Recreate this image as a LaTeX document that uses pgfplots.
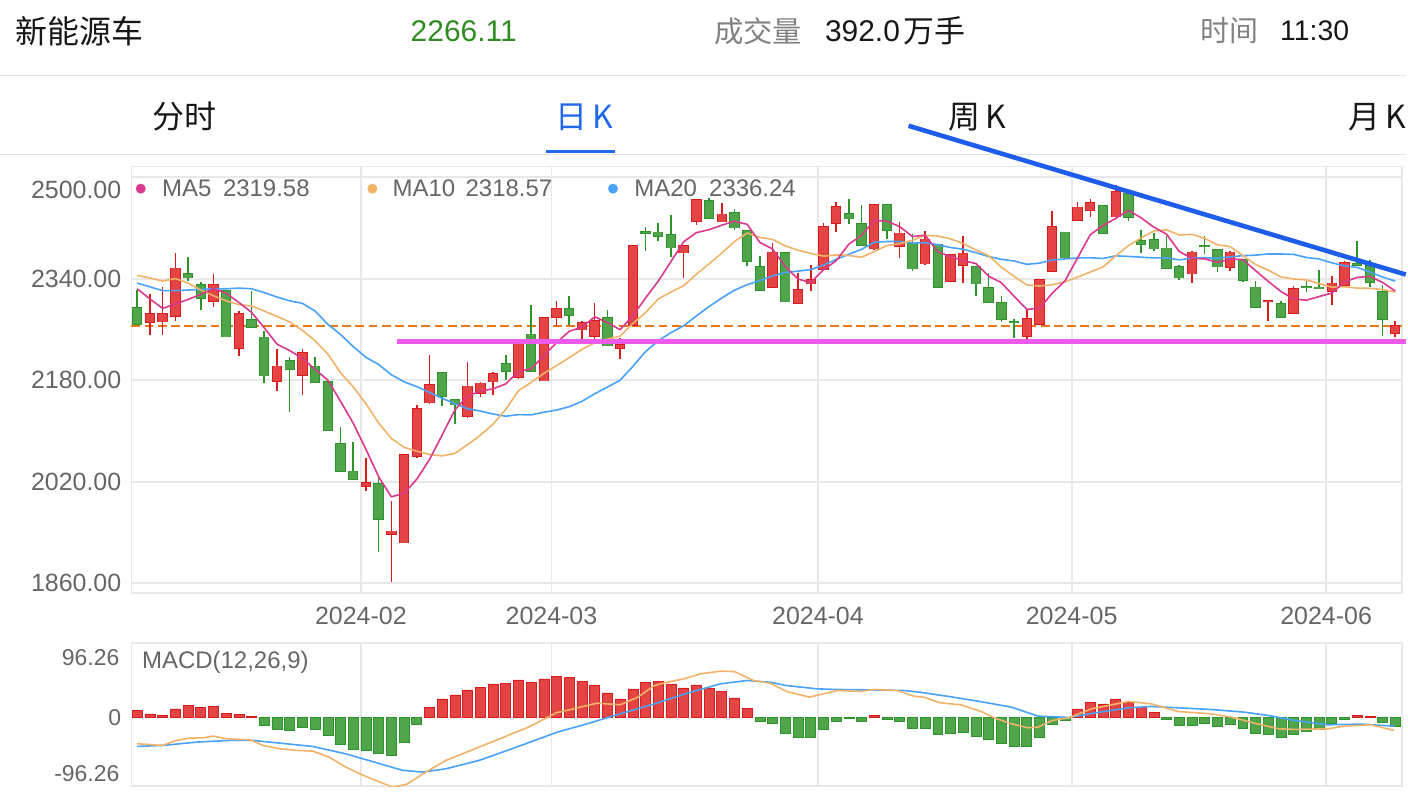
\documentclass[border=0pt]{standalone}
\usepackage{fontspec}
\usepackage{pgfplots}
\usepackage{pgfplotstable}
\pgfplotsset{compat=1.18}
\setmainfont{Liberation Sans}
\newfontfamily\cjk{Noto Sans CJK SC}

\definecolor{upred}{RGB}{228,68,68}
\definecolor{upedge}{RGB}{214,28,28}
\definecolor{dngreen}{RGB}{80,164,74}
\definecolor{dnedge}{RGB}{42,148,42}
\definecolor{ma5c}{RGB}{218,56,140}
\definecolor{ma10c}{RGB}{242,178,104}
\definecolor{ma20c}{RGB}{72,162,250}
\definecolor{gridc}{RGB}{232,232,232}
\definecolor{labc}{RGB}{102,102,102}
\definecolor{lastc}{RGB}{238,118,20}
\definecolor{magc}{RGB}{236,90,236}
\definecolor{trendc}{RGB}{30,92,236}
\definecolor{pricegreen}{RGB}{48,140,34}
\definecolor{tabblue}{RGB}{32,104,236}
\definecolor{txtc}{RGB}{24,24,24}
\definecolor{graytxt}{RGB}{130,130,130}
\definecolor{sepc}{RGB}{228,228,228}

% up (red) candles: index open high low close
\pgfplotstableread{
i o h l c
1 2270.3 2316.4 2250.9 2285.0
2 2271.4 2326.4 2251.9 2285.0
3 2280.8 2380.4 2272.9 2356.8
6 2304.4 2347.4 2294.9 2330.6
8 2229.4 2288.6 2217.9 2285.0
11 2178.0 2228.4 2162.8 2202.2
13 2187.5 2228.4 2156.5 2224.2
18 2012.4 2058.0 2005.6 2018.7
20 1937.4 1989.9 1861.4 1942.7
21 1923.3 2063.3 1923.3 2063.3
22 2059.6 2140.8 2058.0 2135.1
23 2144.0 2218.9 2142.9 2173.3
26 2122.5 2208.5 2119.9 2170.7
27 2158.7 2177.5 2154.0 2175.4
28 2177.0 2193.2 2156.0 2190.6
30 2183.8 2237.8 2182.2 2237.8
32 2178.6 2279.2 2178.6 2279.2
33 2279.2 2304.4 2265.1 2292.8
35 2258.8 2272.9 2245.1 2271.4
36 2249.3 2301.8 2245.1 2274.0
38 2229.4 2246.7 2212.6 2236.2
39 2266.6 2392.4 2265.1 2392.4
43 2380.4 2391.9 2341.1 2391.9
44 2430.2 2464.3 2424.9 2464.3
46 2429.1 2459.0 2429.1 2441.7
50 2326.4 2396.1 2326.4 2382.0
52 2300.2 2348.9 2300.2 2322.7
53 2331.6 2362.0 2320.1 2338.5
54 2354.2 2427.6 2352.6 2422.3
55 2426.5 2460.1 2413.4 2453.8
58 2386.7 2456.4 2385.6 2456.4
60 2390.9 2428.6 2372.5 2411.8
62 2363.1 2414.5 2361.0 2402.4
64 2335.8 2377.8 2335.8 2377.8
65 2361.0 2407.6 2333.2 2380.4
70 2248.3 2292.3 2244.1 2277.1
71 2267.7 2339.5 2267.7 2338.5
72 2351.6 2445.9 2351.6 2422.3
74 2431.8 2460.6 2431.8 2452.7
75 2447.5 2465.3 2436.5 2460.1
77 2437.0 2487.9 2437.0 2477.4
83 2347.4 2383.0 2333.2 2382.0
86 2357.9 2384.1 2352.6 2382.0
89 2304.4 2305.9 2272.9 2305.9
91 2284.5 2328.0 2284.5 2324.3
94 2319.1 2344.7 2299.1 2333.2
95 2329.5 2368.3 2329.5 2365.7
99 2253.0 2272.9 2248.3 2266.1
}\redK

% down (green) candles
\pgfplotstableread{
i o h l c
0 2294.9 2322.7 2266.6 2267.7
4 2347.9 2373.6 2335.8 2341.1
5 2330.6 2334.3 2291.3 2308.1
7 2321.2 2322.7 2247.8 2247.8
9 2275.6 2320.1 2262.4 2262.4
10 2248.3 2257.2 2175.9 2186.4
12 2211.6 2216.8 2130.3 2196.9
14 2202.2 2216.3 2175.9 2175.9
15 2177.5 2177.5 2101.0 2101.0
16 2080.5 2106.2 2036.0 2036.0
17 2037.0 2082.6 2023.9 2023.9
19 2017.6 2026.6 1908.6 1960.0
24 2192.7 2192.7 2139.3 2154.0
25 2149.7 2149.7 2110.4 2140.8
29 2206.4 2218.9 2179.6 2193.2
31 2253.0 2298.1 2193.2 2193.2
34 2292.8 2313.3 2267.7 2281.8
37 2279.2 2290.2 2233.6 2233.6
40 2414.5 2421.3 2384.1 2410.8
41 2413.4 2427.6 2399.8 2406.6
42 2409.2 2440.7 2374.1 2388.2
45 2463.2 2466.9 2434.4 2434.4
47 2444.3 2449.6 2416.0 2419.7
48 2416.0 2416.0 2360.5 2367.3
49 2359.4 2375.2 2321.7 2321.7
51 2381.4 2381.4 2303.3 2303.3
56 2442.2 2465.3 2426.5 2433.9
57 2426.5 2455.4 2391.9 2391.9
59 2456.4 2456.4 2402.9 2416.0
61 2395.1 2410.8 2352.6 2355.2
63 2393.5 2393.5 2326.4 2326.4
66 2359.4 2359.4 2313.3 2331.6
67 2326.4 2348.9 2302.8 2302.8
68 2302.8 2312.2 2271.4 2275.6
69 2272.9 2276.6 2246.7 2270.8
73 2413.4 2413.4 2372.5 2372.5
76 2454.8 2454.8 2410.8 2410.8
78 2474.7 2477.4 2430.2 2436.5
79 2399.8 2417.1 2380.4 2393.5
80 2401.4 2411.8 2384.1 2386.7
81 2388.2 2406.6 2355.7 2355.7
82 2359.4 2362.0 2338.5 2341.1
84 2392.4 2406.6 2378.8 2390.3
85 2385.6 2385.6 2350.5 2358.4
87 2369.9 2369.9 2334.3 2337.4
88 2326.9 2335.8 2294.9 2294.9
90 2301.2 2305.4 2278.2 2278.2
92 2328.0 2336.9 2318.5 2326.4
93 2326.9 2354.2 2323.8 2323.8
96 2364.1 2399.8 2359.4 2360.5
97 2360.5 2369.9 2326.4 2334.3
98 2320.1 2330.6 2249.3 2275.6
}\greenK

% moving averages
\pgfplotstableread{
i m5 m10 m20
0 2324 2345 2333
1 2308 2341 2327
2 2293 2336 2321
3 2300 2340 2321
4 2307.1 2333 2322
5 2315.2 2322 2323
6 2324.3 2313 2324
7 2316.9 2305 2324
8 2302.5 2299 2325
9 2286.8 2297.0 2324
10 2262.4 2288.8 2318
11 2236.8 2280.5 2311
12 2226.6 2271.7 2305
13 2214.4 2258.5 2301
14 2197.1 2242.0 2289
15 2180.0 2221.2 2268
16 2146.8 2191.8 2252
17 2112.2 2169.4 2233
18 2071.1 2142.8 2216
19 2027.9 2112.5 2204.7
20 1996.3 2088.2 2188.5
21 2001.7 2074.3 2177.4
22 2024.0 2068.1 2169.9
23 2054.9 2063.0 2160.7
24 2093.7 2060.8 2151.4
25 2133.3 2064.8 2143.0
26 2154.8 2078.3 2135.0
27 2162.8 2093.4 2131.4
28 2166.3 2110.6 2126.7
29 2174.1 2133.9 2123.2
30 2193.5 2163.4 2125.8
31 2198.0 2176.4 2125.3
32 2218.8 2190.8 2129.5
33 2239.2 2202.8 2132.9
34 2257.0 2215.6 2138.2
35 2263.7 2228.6 2146.7
36 2279.8 2238.9 2158.6
37 2270.7 2244.8 2169.1
38 2259.4 2249.3 2180.0
39 2281.5 2269.2 2201.6
40 2309.4 2286.5 2225.0
41 2335.9 2307.9 2242.1
42 2366.8 2318.8 2254.8
43 2398.0 2328.7 2265.7
44 2412.4 2346.9 2281.2
45 2417.1 2363.2 2295.9
46 2424.1 2380.0 2309.5
47 2430.4 2398.6 2321.7
48 2425.5 2411.7 2330.5
49 2397.0 2404.7 2337.0
50 2386.5 2401.8 2344.2
51 2358.8 2391.5 2349.7
52 2339.4 2384.9 2351.8
53 2333.6 2379.6 2354.1
54 2353.8 2375.4 2361.2
55 2368.1 2377.3 2370.3
56 2394.2 2376.5 2378.3
57 2408.1 2373.7 2386.2
58 2431.7 2382.7 2397.2
59 2430.4 2392.1 2398.4
60 2422.0 2395.1 2398.4
61 2406.3 2400.3 2395.9
62 2408.4 2408.2 2396.6
63 2382.4 2407.0 2393.3
64 2374.7 2402.6 2389.0
65 2368.4 2395.2 2386.3
66 2363.7 2385.0 2380.8
67 2343.8 2376.1 2374.9
68 2333.6 2358.0 2370.3
69 2312.2 2343.5 2367.8
70 2291.6 2330.0 2362.5
71 2293.0 2328.3 2364.3
72 2316.9 2330.3 2369.3
73 2336.2 2334.9 2371.0
74 2372.6 2342.4 2372.5
75 2409.2 2350.4 2372.8
76 2423.7 2358.3 2371.7
77 2434.7 2375.8 2375.9
78 2447.5 2391.9 2374.9
79 2435.7 2404.1 2373.8
80 2421.0 2415.1 2372.6
81 2410.0 2416.8 2372.6
82 2382.7 2408.7 2369.5
83 2371.8 2409.7 2372.3
84 2371.2 2403.4 2372.9
85 2365.5 2393.2 2371.8
86 2370.8 2390.4 2374.3
87 2370.0 2376.4 2376.1
88 2352.6 2362.2 2377.0
89 2335.7 2353.4 2378.8
90 2319.7 2342.6 2378.8
91 2308.1 2339.5 2378.1
92 2305.9 2338.0 2373.3
93 2311.7 2332.2 2370.9
94 2317.2 2326.5 2364.9
95 2334.7 2327.2 2360.2
96 2341.9 2325.0 2357.7
97 2343.5 2324.7 2350.5
98 2333.9 2322.8 2342.5
99 2320.4 2318.8 2336.1
}\maT

% MACD histogram
\pgfplotstableread{
i v
0 8.8
1 4.5
2 2.8
3 11.0
4 15.3
5 13.1
6 14.0
7 5.0
8 3.7
9 1.1
23 12.3
24 23.9
25 29.1
26 35.5
27 39.0
28 43.3
29 44.1
30 48.5
31 45.0
32 49.7
33 53.2
34 51.5
35 46.7
36 42.0
37 31.7
38 23.9
39 36.8
40 45.0
41 46.7
42 43.3
43 38.1
44 42.0
45 37.7
46 33.4
47 25.2
48 11.8
58 2.4
74 11.0
75 19.6
76 17.4
77 23.9
78 19.6
79 13.1
80 6.7
96 2.4
97 1.5
}\macdPos

\pgfplotstableread{
i v
10 -10.6
11 -14.9
12 -16.2
13 -12.7
14 -14.9
15 -23.5
16 -34.7
17 -41.6
18 -42.4
19 -47.2
20 -49.3
21 -32.1
22 -9.3
49 -5.4
50 -8.4
51 -20.5
52 -25.6
53 -26.5
54 -15.7
55 -5.4
56 -1.9
57 -5.4
59 -2.8
60 -5.0
61 -13.6
62 -13.6
63 -22.6
64 -21.3
65 -20.0
66 -24.3
67 -29.1
68 -34.2
69 -37.3
70 -37.3
71 -26.5
72 -9.3
73 -3.7
81 -3.2
82 -10.6
83 -10.6
84 -8.4
85 -11.4
86 -9.3
87 -13.6
88 -21.3
89 -22.6
90 -26.5
91 -22.2
92 -17.9
93 -15.7
94 -8.4
95 -3.2
98 -6.2
99 -11.4
}\macdNeg

% DIF (fast line)
\pgfplotstableread{
i v
0 -34.2
2 -36.4
3.1 -29.9
4.1 -26.9
5.2 -26.5
6 -24.3
7 -27.8
8.9 -29.1
9.9 -36.4
11.2 -40.7
12.5 -42.8
13.8 -43.7
15.1 -51.5
16.4 -64.4
17.8 -75.2
19.1 -83.8
20.1 -90.5
21.2 -86.8
22.5 -73.0
24.3 -55.8
26.9 -38.6
29.5 -21.3
30.8 -12.7
33.0 6.0
34.1 10.1
35.4 15.3
36.2 18.3
38.0 16.2
39.4 26.1
40.7 41.1
41.7 45.4
43.0 49.7
44.3 56.2
45.9 59.7
47.0 59.2
48.5 47.6
49.8 44.1
51.1 33.4
52.9 26.1
55.1 34.7
56.9 33.4
58.0 36.0
59.8 34.7
61.1 27.3
61.9 26.1
63.2 18.7
64.8 16.2
66.4 7.7
67.5 -1.1
68.8 -8.4
70.1 -13.6
70.9 -12.7
72.0 -4.1
73.3 -0.6
75.1 11.0
76.7 16.2
78.0 20.5
79.8 17.4
81.9 7.5
84.5 4.5
86.1 0.2
87.9 -7.5
89.8 -14.9
91.1 -15.7
93.7 -14.9
95.0 -11.4
97.1 -9.7
98.9 -17.0
}\difT

% DEA (slow line)
\pgfplotstableread{
i v
0 -37.7
2 -36.4
4.7 -32.1
7.3 -29.9
9.1 -29.9
11.2 -33.4
13.8 -37.7
16.4 -47.2
19.1 -60.1
20.9 -68.7
22.5 -70.9
24.3 -66.6
26.9 -55.8
29.5 -40.7
33.0 -19.5
35.4 -8.4
38.0 4.5
40.7 17.4
43.3 31.2
45.9 43.3
48.0 47.6
49.8 45.4
51.1 41.1
53.5 36.8
55.1 36.0
57.7 35.5
60.3 34.7
61.6 32.5
64.2 26.1
66.4 20.2
68.8 13.1
70.9 1.5
73.3 -0.2
75.4 5.8
78.0 12.3
79.8 14.0
81.9 12.3
84.5 10.1
87.1 6.7
89.0 2.4
91.1 -4.1
93.7 -9.7
96.3 -8.8
98.9 -11.4
}\deaT

\pgfplotsset{
  candlewick/.style={draw=none, mark=none, mark options={draw=none,fill=none},
    error bars/.cd, y dir=both, y explicit, error mark=none,
    error bar style={draw=#1, line width=0.8pt}},
  candlebody/.style 2 args={draw=none, mark=none, mark options={draw=none,fill=none},
    error bars/.cd, y dir=both, y explicit, error mark=none,
    error bar style={draw=#1, line width=#2}},
}

\begin{document}
\begin{tikzpicture}
\begin{scope}[x=0.5pt,y=-0.5pt]
\path[use as bounding box, fill=white] (0,0) rectangle (1408,794);
% header
\node[anchor=west,inner sep=0,font=\cjk\fontsize{16}{18}\selectfont,text=txtc] at (15,31) {新能源车};
\node[anchor=west,inner sep=0,font=\fontsize{15}{17}\selectfont,text=pricegreen] at (411,31) {2266.11};
\node[anchor=west,inner sep=0,font=\cjk\fontsize{14.7}{17}\selectfont,text=graytxt] at (715,31) {成交量};
\node[anchor=west,inner sep=0,font=\fontsize{15}{17}\selectfont,text=txtc] at (826,31) {392.0};
\node[anchor=west,inner sep=0,font=\cjk\fontsize{15.5}{17}\selectfont,text=txtc] at (905,31) {万手};
\node[anchor=west,inner sep=0,font=\cjk\fontsize{14.5}{17}\selectfont,text=graytxt] at (1202,31) {时间};
\node[anchor=west,inner sep=0,font=\fontsize{14.2}{17}\selectfont,text=txtc] at (1282,31) {11:30};
\draw[sepc, line width=0.6pt] (0,75.5) -- (1408,75.5);
% tabs
\node[anchor=west,inner sep=0,font=\cjk\fontsize{16}{18}\selectfont,text=txtc] at (152,117) {分时};
\node[anchor=west,inner sep=0,font=\cjk\fontsize{16}{18}\selectfont,text=tabblue] at (556,117) {日\hspace{2.5pt}K};
\node[anchor=west,inner sep=0,font=\cjk\fontsize{16}{18}\selectfont,text=txtc] at (950,117) {周\hspace{2.5pt}K};
\node[anchor=west,inner sep=0,font=\cjk\fontsize{16}{18}\selectfont,text=txtc] at (1350,117) {月\hspace{2.5pt}K};
\draw[tabblue, line width=1.5pt] (547,152) -- (616,152);
\draw[sepc, line width=0.6pt] (0,154.8) -- (1408,154.8);
\end{scope}

% ---------------- main K-line axis ----------------
\begin{axis}[
  at={(65.85pt,-297.15pt)}, anchor=south west,
  scale only axis, width=636.15pt, height=213.8pt,
  xmin=-0.45, xmax=99.5, ymin=1844.3, ymax=2516.7,
  clip=false,
  axis line style={draw=gridc, line width=0.9pt},
  major tick length=0pt,
  xtick={17.6,32.6,53.57,73.53,93.56},
  xticklabels={2024-02,2024-03,2024-04,2024-05,2024-06},
  ytick={1860,2020,2180,2340},
  yticklabels={1860.00,2020.00,2180.00,2340.00},
  extra y ticks={2500},
  extra y tick labels={2500.00},
  extra y tick style={grid=major, yticklabel style={yshift=-6.4pt}},
  grid=major,
  major grid style={draw=gridc, line width=0.9pt},
  tick label style={font=\fontsize{12.5}{15}\selectfont, text=labc},
  yticklabel style={xshift=-1.6pt},
  xticklabel style={yshift=-3.2pt},
  /pgf/number format/assume math mode=true,
]
% last price line (behind candles)
\addplot[draw=lastc, line width=1pt, dash pattern=on 4.4pt off 2.2pt, mark=none] coordinates {(-0.45,2266.11) (99.5,2266.11)};
% wicks
\addplot[candlewick=dnedge]
  table[x=i, y expr={(\thisrow{h}+\thisrow{l})/2}, y error expr={(\thisrow{h}-\thisrow{l})/2}] {\greenK};
\addplot[candlewick=upedge]
  table[x=i, y expr={(\thisrow{h}+\thisrow{l})/2}, y error expr={(\thisrow{h}-\thisrow{l})/2}] {\redK};
% bodies: darker outline, then fill
\addplot[candlebody={dnedge}{5.2pt}]
  table[x=i, y expr={(\thisrow{o}+\thisrow{c})/2}, y error expr={max(abs(\thisrow{c}-\thisrow{o})/2+0.5,1.2)}] {\greenK};
\addplot[candlebody={dngreen}{4.2pt}]
  table[x=i, y expr={(\thisrow{o}+\thisrow{c})/2}, y error expr={max(abs(\thisrow{c}-\thisrow{o})/2-0.6,0.2)}] {\greenK};
\addplot[candlebody={upedge}{5.2pt}]
  table[x=i, y expr={(\thisrow{o}+\thisrow{c})/2}, y error expr={max(abs(\thisrow{c}-\thisrow{o})/2+0.5,1.2)}] {\redK};
\addplot[candlebody={upred}{4.2pt}]
  table[x=i, y expr={(\thisrow{o}+\thisrow{c})/2}, y error expr={max(abs(\thisrow{c}-\thisrow{o})/2-0.6,0.2)}] {\redK};
% moving averages
\addplot[color=ma20c, line width=0.8pt, mark=none, line join=round] table[x=i, y=m20] {\maT};
\addplot[color=ma10c, line width=0.8pt, mark=none, line join=round] table[x=i, y=m10] {\maT};
\addplot[color=ma5c, line width=0.8pt, mark=none, line join=round] table[x=i, y=m5] {\maT};
% support and trend lines
\addplot[color=magc, line width=2.2pt, mark=none] coordinates {(20.42,2241) (99.82,2241)};
\addplot[color=trendc, line width=2.3pt, mark=none] coordinates {(60.70,2580.7) (99.82,2346.4)};
\end{axis}

% ---------------- MACD axis ----------------
\begin{axis}[
  at={(65.85pt,-393.85pt)}, anchor=south west,
  scale only axis, width=636.15pt, height=71.85pt,
  xmin=-0.45, xmax=99.5, ymin=-89.4, ymax=96.26,
  axis line style={draw=gridc, line width=0.9pt},
  major tick length=0pt,
  xtick={17.6,32.6,53.57,73.53,93.56}, xticklabels={},
  xmajorgrids=true, ymajorgrids=false,
  major grid style={draw=gridc, line width=0.9pt},
  ytick={0}, yticklabels={0},
  tick label style={font=\fontsize{11.5}{14}\selectfont, text=labc},
  yticklabel style={xshift=-1.6pt},
  /pgf/number format/assume math mode=true,
]
\addplot[ybar, bar width=5pt, bar shift=0pt, fill=upred, draw=upedge, line width=0.3pt] table[x=i, y=v] {\macdPos};
\addplot[ybar, bar width=5pt, bar shift=0pt, fill=dngreen, draw=dnedge, line width=0.3pt] table[x=i, y=v] {\macdNeg};
\addplot[color=ma20c, line width=0.8pt, mark=none, line join=round] table[x=i, y=v] {\deaT};
\addplot[color=ma10c, line width=0.8pt, mark=none, line join=round] table[x=i, y=v] {\difT};
\end{axis}

% legends and labels
\begin{scope}[x=0.5pt,y=-0.5pt]
\fill[ma5c] (141,189) circle (5);
\node[anchor=west,inner sep=0,font=\fontsize{12}{14}\selectfont,text=labc] at (162,189) {MA5};
\node[anchor=west,inner sep=0,font=\fontsize{12}{14}\selectfont,text=labc] at (223,189) {2319.58};
\fill[ma10c] (373,189) circle (5);
\node[anchor=west,inner sep=0,font=\fontsize{12}{14}\selectfont,text=labc] at (393,189) {MA10};
\node[anchor=west,inner sep=0,font=\fontsize{12}{14}\selectfont,text=labc] at (466,189) {2318.57};
\fill[ma20c] (614,189) circle (5);
\node[anchor=west,inner sep=0,font=\fontsize{12}{14}\selectfont,text=labc] at (635,189) {MA20};
\node[anchor=west,inner sep=0,font=\fontsize{12}{14}\selectfont,text=labc] at (710,189) {2336.24};
\node[anchor=west,inner sep=0,font=\fontsize{12}{14}\selectfont,text=labc] at (142,663) {MACD(12,26,9)};
\node[anchor=east,inner sep=0,font=\fontsize{11.5}{14}\selectfont,text=labc] at (120,659) {96.26};
\node[anchor=east,inner sep=0,font=\fontsize{11.5}{14}\selectfont,text=labc] at (120,775) {-96.26};
\end{scope}
\end{tikzpicture}
\end{document}
